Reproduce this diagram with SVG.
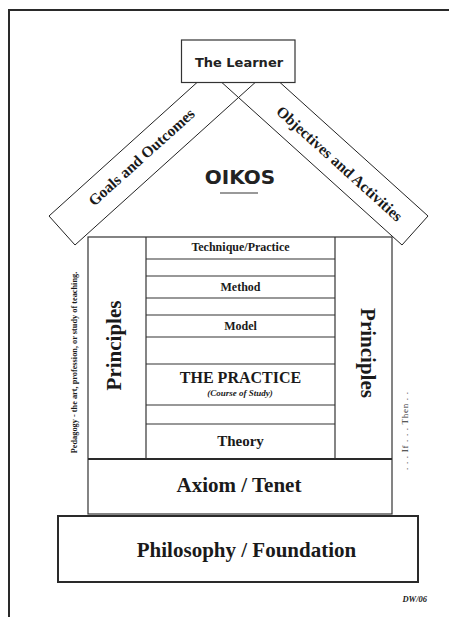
<svg xmlns="http://www.w3.org/2000/svg" width="449" height="617" viewBox="0 0 449 617">
<style>
  .ln{fill:none;stroke:#333;stroke-width:1.2}
  .thk{fill:none;stroke:#2a2a2a;stroke-width:2}
  .beam{fill:none;stroke:#222;stroke-width:1}
  .sf{font-family:"Liberation Serif","Times New Roman",serif;font-weight:bold;fill:#1a1a1a;text-anchor:middle}
  .cs{font-family:"DejaVu Sans","Liberation Sans",sans-serif;font-weight:bold;fill:#222;text-anchor:middle}
</style>
<rect width="449" height="617" fill="#fff"/>
<g id="frame">
  <path d="M9,617 V10 H449" class="thk"/>
</g>
<g id="beam-goals">
  <polygon points="49,216 75,245 269,70 243,41" class="beam"/>
  <text class="sf" font-size="15.5" transform="translate(145,161) rotate(-42.06)">Goals and Outcomes</text>
</g>
<g id="beam-objectives">
  <polygon points="428,216 402,245 208,70 234,41" class="beam"/>
  <text class="sf" font-size="15.5" transform="translate(336,167.5) rotate(42.06)">Objectives and Activities</text>
</g>
<g id="learner">
  <rect x="181.5" y="40" width="113.5" height="42.5" style="fill:#fff;stroke:#333;stroke-width:1.2"/>
  <text class="cs" x="239" y="67" font-size="13">The Learner</text>
</g>
<g id="oikos">
  <text class="cs" x="240" y="184" font-size="20">OIKOS</text>
  <line x1="220" y1="193" x2="258" y2="193" stroke="#777" stroke-width="1.5"/>
</g>
<g id="house">
  <rect x="88" y="237" width="304" height="277" class="ln"/>
  <line x1="88" y1="459" x2="392" y2="459" class="thk"/>
  <line x1="146" y1="237" x2="146" y2="459" class="ln"/>
  <line x1="335" y1="237" x2="335" y2="459" class="ln"/>
</g>
<g id="practice-column">
  <path d="M146,259H335M146,276H335M146,298H335M146,315H335M146,337H335M146,364H335M146,405H335M146,424H335" class="ln"/>
</g>
<g id="technique">
  <text class="sf" x="240.5" y="251" font-size="12">Technique/Practice</text>
</g>
<g id="method">
  <text class="sf" x="240.5" y="291" font-size="12">Method</text>
</g>
<g id="model">
  <text class="sf" x="240.5" y="330" font-size="12">Model</text>
</g>
<g id="the-practice">
  <text class="sf" x="240.5" y="383" font-size="16">THE PRACTICE</text>
  <text class="sf" x="240" y="396" font-size="9" font-style="italic">(Course of Study)</text>
</g>
<g id="theory">
  <text class="sf" x="240.5" y="446" font-size="15">Theory</text>
</g>
<g id="principles-left">
  <text class="sf" font-size="21" transform="translate(121,345.5) rotate(-90)">Principles</text>
</g>
<g id="principles-right">
  <text class="sf" font-size="21" transform="translate(361,353) rotate(90)">Principles</text>
</g>
<g id="pedagogy">
  <text class="sf" font-size="8.3" transform="translate(77,362.5) rotate(-90)">Pedagogy - the art, profession, or study of teaching.</text>
</g>
<g id="if-then">
  <text font-family="Liberation Serif, serif" font-size="9" fill="#333" text-anchor="middle" textLength="78" lengthAdjust="spacing" transform="translate(408,431) rotate(-90)">. . . If . . . Then . .</text>
</g>
<g id="axiom">
  <text class="sf" x="239" y="492" font-size="21">Axiom / Tenet</text>
</g>
<g id="philosophy">
  <rect x="58" y="516" width="360" height="66" class="thk"/>
  <text class="sf" x="246.5" y="557" font-size="21">Philosophy / Foundation</text>
</g>
<g id="signature">
  <text class="sf" x="427" y="602" font-size="8.5" font-style="italic" style="text-anchor:end">DW/06</text>
</g>
</svg>
